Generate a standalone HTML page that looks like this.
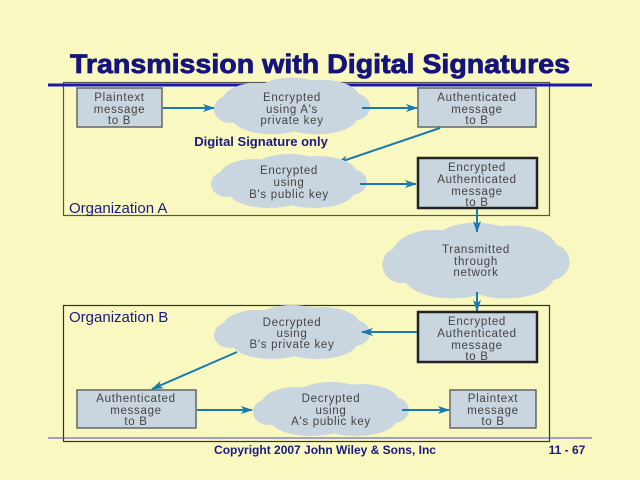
<!DOCTYPE html>
<html><head><meta charset="utf-8"><style>
html,body{margin:0;padding:0;background:#f9f8c0;}
svg{display:block;}
.t{font-family:"Liberation Sans",sans-serif;font-size:11.5px;fill:#444;text-anchor:middle;letter-spacing:0.7px;}
.b{fill:#c9d5df;stroke:#666;stroke-width:1.5;}
.bb{fill:#c9d5df;stroke:#222;stroke-width:2.5;}
.c{fill:#c9d5df;}
.a{stroke:#1a7ab0;stroke-width:2;fill:none;}
.org{font-family:"Liberation Sans",sans-serif;font-size:15px;fill:#1a1a80;}
</style></head><body>
<svg width="640" height="480" viewBox="0 0 640 480" xmlns="http://www.w3.org/2000/svg">
<defs>
<marker id="ar" markerWidth="12" markerHeight="8" refX="11" refY="4" orient="auto" markerUnits="userSpaceOnUse">
<path d="M0,0 L12,4 L0,8 L3,4 z" fill="#1a7ab0"/></marker>
<g id="cl">
<ellipse cx="0" cy="0" rx="62" ry="18"/>
<ellipse cx="-35" cy="-5" rx="35" ry="18"/>
<ellipse cx="30" cy="-8" rx="38" ry="18"/>
<ellipse cx="-20" cy="10" rx="40" ry="16"/>
<ellipse cx="25" cy="10" rx="40" ry="16"/>
<ellipse cx="0" cy="-14" rx="35" ry="14"/>
<ellipse cx="-62" cy="2" rx="16" ry="13"/>
<ellipse cx="62" cy="0" rx="16" ry="13"/>
</g>
</defs>
<text x="70" y="73" font-family="'Liberation Sans',sans-serif" font-weight="bold" font-size="27" fill="#14147a" textLength="500" lengthAdjust="spacingAndGlyphs" stroke="#14147a" stroke-width="0.8">Transmission with Digital Signatures</text>

<rect x="63.5" y="82.5" width="486" height="133" fill="none" stroke="#555" stroke-width="1.2"/>
<rect x="63.5" y="305.5" width="486" height="136" fill="none" stroke="#333" stroke-width="1.2"/>
<line x1="48" y1="85" x2="592" y2="85" stroke="#1a1ab0" stroke-width="3"/>
<line x1="48" y1="438" x2="592" y2="438" stroke="#4a4acc" stroke-width="1"/>

<rect class="b" x="77" y="88" width="85" height="39"/>
<text class="t" x="119.5" y="101">Plaintext</text><text class="t" x="119.5" y="113">message</text><text class="t" x="119.5" y="124">to B</text>
<g class="c" transform="translate(292,107) scale(1,1.05)"><use href="#cl"/></g>
<text class="t" x="292" y="101">Encrypted</text><text class="t" x="292" y="113">using A's</text><text class="t" x="292" y="124">private key</text>
<rect class="b" x="418" y="88" width="118" height="39"/>
<text class="t" x="477" y="101">Authenticated</text><text class="t" x="477" y="113">message</text><text class="t" x="477" y="124">to B</text>
<line class="a" x1="163" y1="108" x2="214" y2="108" marker-end="url(#ar)"/>
<line class="a" x1="362" y1="108" x2="417" y2="108" marker-end="url(#ar)"/>
<text x="261" y="146" font-family="'Liberation Sans',sans-serif" font-size="13" font-weight="bold" fill="#1a1a80" text-anchor="middle">Digital Signature only</text>
<line class="a" x1="440" y1="128" x2="337" y2="163" marker-end="url(#ar)"/>
<g class="c" transform="translate(289,182)"><use href="#cl"/></g>
<text class="t" x="289" y="174">Encrypted</text><text class="t" x="289" y="186">using</text><text class="t" x="289" y="198">B's public key</text>
<rect class="bb" x="418" y="158" width="119" height="50"/>
<text class="t" x="477" y="171">Encrypted</text><text class="t" x="477" y="183">Authenticated</text><text class="t" x="477" y="195">message</text><text class="t" x="477" y="206">to B</text>
<line class="a" x1="360" y1="184" x2="416" y2="184" marker-end="url(#ar)"/>
<text class="org" x="69" y="213">Organization A</text>

<g class="c" transform="translate(476,262) scale(1.2,1.4)"><use href="#cl"/></g>
<line class="a" x1="477" y1="209" x2="477" y2="232" marker-end="url(#ar)"/>
<text class="t" x="476" y="253">Transmitted</text><text class="t" x="476" y="265">through</text><text class="t" x="476" y="276">network</text>
<line class="a" x1="477" y1="292" x2="477" y2="311" marker-end="url(#ar)"/>

<text class="org" x="69" y="322">Organization B</text>
<rect class="bb" x="418" y="312" width="119" height="50"/>
<text class="t" x="477" y="325">Encrypted</text><text class="t" x="477" y="337">Authenticated</text><text class="t" x="477" y="349">message</text><text class="t" x="477" y="360">to B</text>
<g class="c" transform="translate(292,333)"><use href="#cl"/></g>
<text class="t" x="292" y="326">Decrypted</text><text class="t" x="292" y="337">using</text><text class="t" x="292" y="348">B's private key</text>
<line class="a" x1="417" y1="332" x2="362" y2="332" marker-end="url(#ar)"/>
<line class="a" x1="237" y1="352" x2="152" y2="389" marker-end="url(#ar)"/>
<rect class="b" x="77" y="390" width="119" height="38"/>
<text class="t" x="136" y="402">Authenticated</text><text class="t" x="136" y="414">message</text><text class="t" x="136" y="425">to B</text>
<g class="c" transform="translate(331,410)"><use href="#cl"/></g>
<text class="t" x="331" y="402">Decrypted</text><text class="t" x="331" y="414">using</text><text class="t" x="331" y="425">A's public key</text>
<rect class="b" x="450" y="390" width="86" height="38"/>
<text class="t" x="493" y="402">Plaintext</text><text class="t" x="493" y="414">message</text><text class="t" x="493" y="425">to B</text>
<line class="a" x1="197" y1="410" x2="252" y2="410" marker-end="url(#ar)"/>
<line class="a" x1="402" y1="410" x2="449" y2="410" marker-end="url(#ar)"/>

<text x="325" y="454" font-family="'Liberation Sans',sans-serif" font-size="12" font-weight="bold" fill="#1a1a80" text-anchor="middle">Copyright 2007 John Wiley &amp; Sons, Inc</text>
<text x="567" y="454" font-family="'Liberation Sans',sans-serif" font-size="12" font-weight="bold" fill="#1a1a80" text-anchor="middle">11 - 67</text>
</svg>
</body></html>
